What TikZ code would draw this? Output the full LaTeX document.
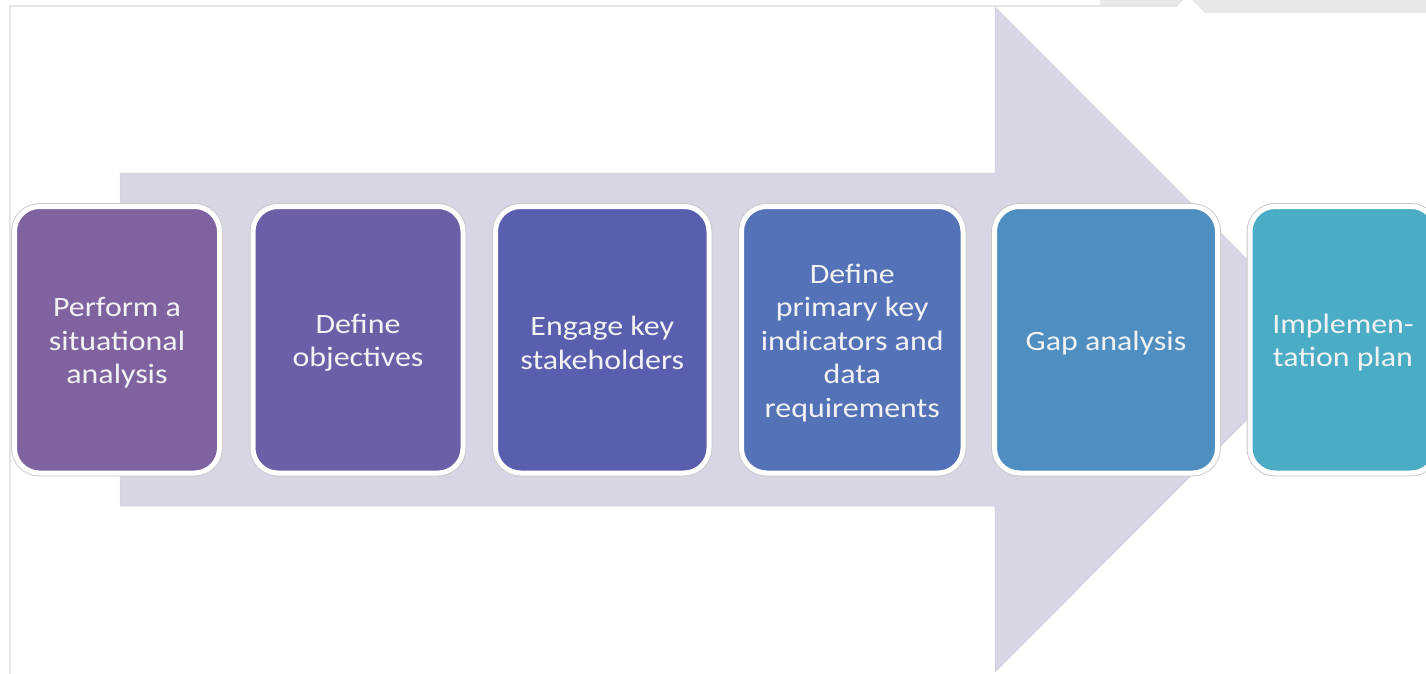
\documentclass[tikz,border=0pt]{standalone}
\usepackage{fontspec}
\setmainfont{Carlito}[FakeStretch=1.14]
\begin{document}
\begin{tikzpicture}[x=1pt,y=-1pt,
  stage/.style={rounded corners=25pt, draw=white, line width=5pt,
    preaction={draw=black!22, line width=6.8pt},
    minimum height=266.5pt, inner sep=0pt, outer sep=0pt},
  stagetext/.style={text=white!95!black, align=center, inner sep=0pt,
    yshift=-3pt, font=\fontsize{28}{33.5}\selectfont},
  frameline/.style={draw=black!10, line width=2pt}]
\useasboundingbox (0,0) rectangle (1426,674);
\clip (0,0) rectangle (1426,674);
\definecolor{arrowfill}{HTML}{D8D5E4}
\definecolor{cA}{HTML}{7F63A1}
\definecolor{cB}{HTML}{6C5FA7}
\definecolor{cC}{HTML}{5A5EAF}
\definecolor{cD}{HTML}{5472B8}
\definecolor{cE}{HTML}{4F8EC1}
\definecolor{cF}{HTML}{4AACC5}
\definecolor{bandgrey}{HTML}{E8E8E8}
% frame
\draw[frameline] (10,6) -- (10,674);
\draw[frameline] (9,6) -- (1178,6);
\fill[bandgrey] (1100,0) -- (1183,0) -- (1179,5) -- (1100,5) -- cycle;
\fill[bandgrey] (1192,0) -- (1426,0) -- (1426,13) -- (1205,13) -- cycle;
% big arrow
\fill[arrowfill, draw=arrowfill!96!black, line width=0.5pt]
  (120,173) -- (995,173) -- (995,7) -- (1327,339.5) -- (995,672) -- (995,506) -- (120,506) -- cycle;
% stages
\node[stage, fill=cA, minimum width=205pt,
  label={[stagetext]center:Perform a\\situational\\analysis}] (s1) at (117,339.75) {};
\node[stage, fill=cB, minimum width=210pt,
  label={[stagetext]center:Define\\objectives}] (s2) at (358,339.75) {};
\node[stage, fill=cC, minimum width=213.5pt,
  label={[stagetext]center:Engage key\\stakeholders}] (s3) at (602.25,339.75) {};
\node[stage, fill=cD, minimum width=221.5pt,
  label={[stagetext]center:Define\\primary key\\indicators and\\data\\requirements}] (s4) at (852.25,339.75) {};
\node[stage, fill=cE, minimum width=223pt,
  label={[stagetext]center:Gap analysis}] (s5) at (1106,339.75) {};
\node[stage, fill=cF, minimum width=186pt,
  label={[stagetext]center:Implemen-\\tation plan}] (s6) at (1343,339.75) {};
\end{tikzpicture}
\end{document}
